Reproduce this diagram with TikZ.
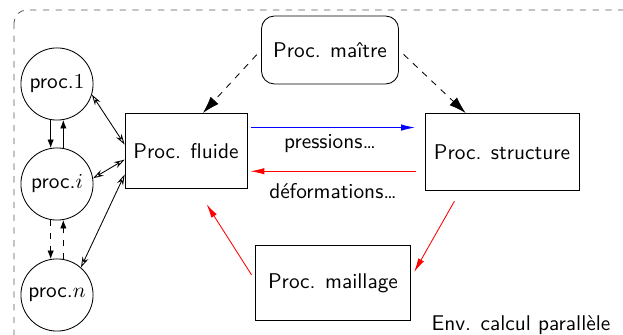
\documentclass[tikz,border=0pt]{standalone}
\usepackage{amsmath}
\usetikzlibrary{arrows.meta}

\begin{document}
\begin{tikzpicture}[x=0.0165cm,y=-0.0165cm,font=\sffamily,
    proc/.style={draw,circle,minimum size=1.19cm,inner sep=0pt},
    boite/.style={draw,inner sep=0pt},
    fleche/.style={-{Latex[length=6.5pt,width=3pt]}},
    lien/.style={{Stealth[open,length=5pt,width=3pt]}-{Stealth[open,length=5pt,width=3pt]}},
    vert/.style={-{Latex[length=4pt,width=3pt]}}]
    \clip (0,0) rectangle (623,335) ;
    \draw [dashed, black!65, rounded corners=6] (14,10) rectangle (680,380) ;
    % processus
    \node [proc] (p1) at (57,84) {proc.$1$} ;
    \node [proc] (pi) at (57,184) {proc.$i$} ;
    \node [proc] (pn) at (57,295) {proc.$n$} ;
    \node [boite, minimum width=2.01cm, minimum height=1.24cm] (fl) at (186,151) {Proc. fluide} ;
    \node [boite, rounded corners=6, minimum width=2.26cm, minimum height=1.12cm] (ma) at (330,50) {Proc. ma\^{\i}tre} ;
    \node [boite, minimum width=2.54cm, minimum height=1.27cm] (st) at (502,152) {Proc. structure} ;
    \node [boite, minimum width=2.56cm, minimum height=1.24cm] (ml) at (333,283) {Proc. maillage} ;
    \node (env) at (521,325) {Env. calcul parall\`ele} ;
    % echanges entre processus
    \draw [vert] (p1.-100) -- (pi.100) ;
    \draw [vert] (pi.80) -- (p1.-80) ;
    \draw [vert, dashed] (pi.-100) -- (pn.100) ;
    \draw [vert, dashed] (pn.80) -- (pi.-80) ;
    \draw [lien] (p1.-17) -- (fl.174) ;
    \draw [lien] (pi.9) -- (fl.188) ;
    \draw [lien] (pn.49) -- (fl.201) ;
    % maitre
    \draw [dashed, -{Latex[length=8pt,width=5pt]}, shorten <=3pt] (ma.west) -- (fl.66) ;
    \draw [dashed, -{Latex[length=8pt,width=5pt]}, shorten <=3pt] (ma.east) -- (st.133) ;
    % couplage
    \draw [fleche, blue, shorten <=1.5pt, shorten >=4.5pt] ([yshift=11pt]fl.east) -- ([yshift=11pt]fl.east -| st.west) ;
    \draw [fleche, red, shorten <=4pt, shorten >=1.5pt] ([yshift=-9.5pt]fl.east -| st.west) -- ([yshift=-9.5pt]fl.east) ;
    \node (pr) at (330,144) {pressions\ldots} ;
    \node (de) at (333,191) {d\'eformations\ldots} ;
    \draw [fleche, red, shorten <=5.5pt, shorten >=3pt] (st.-137) -- (ml.4) ;
    \draw [fleche, red, shorten <=3pt, shorten >=8.5pt] (ml.178) -- (fl.-74) ;
\end{tikzpicture}
\end{document}
